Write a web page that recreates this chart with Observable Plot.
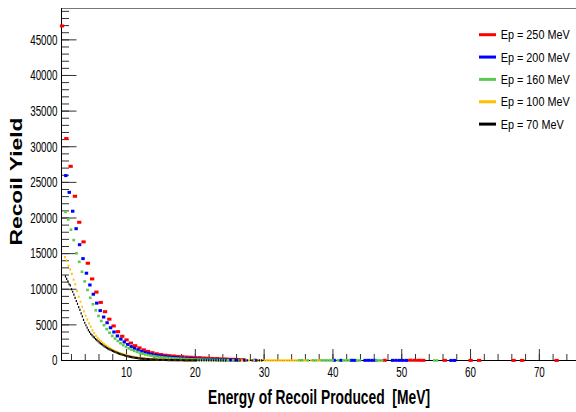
<!DOCTYPE html>
<html><head><meta charset="utf-8">
<script src="https://cdn.jsdelivr.net/npm/d3@7"></script>
<script src="https://cdn.jsdelivr.net/npm/@observablehq/plot@0.6"></script>
<style>
body{margin:0;background:#fff;}
#chart{position:relative;width:576px;height:412px;}
svg{font-family:"Liberation Sans",Arial,Helvetica,sans-serif;}
</style></head><body><div id="chart"></div>
<script>
// ---- series definitions ----
const seriesLabels = ["Ep = 250 MeV","Ep = 200 MeV","Ep = 160 MeV","Ep = 100 MeV","Ep = 70 MeV"];
const seriesColors = ["#ff0000","#0000ff","#5ccc50","#ffc000","#000000"];
const seriesStroke = [3, 3, 2.6, 2.2, 2.2];
const firstBinCenter = [0.7, 1.25, 1.2, 1.125, 1.2];
const binWidths = [0.625, 0.5, 0.4, 0.25, 0.175];

// ---- bin contents (main region) ----
const red = [46950,31150,27250,23050,19400,16650,13650,11450,9600,8150,6850,5800,4850,4050,3400,2900,2450,2080,1770,1500,1280,1100,950,840,750,680,630,560,540,480,460,410,400,350,330,290,280,230,220,180,170,130,120];
const blue = [25950,23600,20950,18500,16250,14300,12250,10600,9300,8050,7000,6100,5300,4600,4000,3450,3000,2600,2250,1950,1700,1480,1290,1130,990,870,770,680,610,550,490,440,400,360,330,300,270,250,225,200,180,165,150,135,120,110,95,85,75,65];
const green = [20850,19800,18350,16900,15050,13850,12450,11100,9900,8800,7900,7050,6250,5550,4950,4400,3900,3450,3080,2740,2430,2160,1920,1710,1520,1350,1200,1070,950,850,760,680,610,550,500,450,410,370,340,310,280,260,240,220,200,180,165,150,140,125,115,105,95,85,80,70,60,55];
const yellow = [14500,14000,13300,12800,12150,11350,10700,9750,8950,8250,7550,6900,6300,5750,5200,4750,4250,3850,3450,3150,2900,2680,2460,2270,2080,1900,1750,1600,1470,1340,1230,1120,1030,940,860,790,720,660,600,550,500,460,420,380,350,320,290,265,240,220,200,185,170,155,140,130,120,110,100,90,85,75,70,60,55,50,45,40,38,35,32,30,28,25,22,20,18];
const black = [11800,11450,11100,10700,10550,10000,9650,9250,8800,8350,7950,7500,7100,6600,6200,5700,5300,4950,4600,4250,4000,3750,3550,3350,3200,3000,2850,2700,2550,2400,2300,2150,2020,1900,1800,1700,1600,1520,1440,1360,1280,1200,1140,1060,1000,940,880,820,770,720,670,630,580,540,510,470,440,410,380,360,330,310,290,270,250,235,220,205,190,180,165,155,145,135,130,120,115,105,100,95,90,85,80,75,70,66,62,58,55,52,50,47,45,42,40,38,36,34,32,30,28,27,26,25,24,22,21,20,19];

// ---- sparse tail bins (energy, content) ----
const redTailE = [47.575,51.325,51.95,52.575,53.2,56.325,60.075,61.325,66.325,67.575,72.575];
const redTailV = [30,40,35,30,25,20,20,15,15,15,10];
const blueTailE = [26.25,27.25,28.75,40.25,41.25,42.75,43.25,44.75,45.25,45.75,46.25,48.75,49.25,49.75,50.25,50.75,57.25,57.75];
const blueTailV = [60,50,40,30,25,25,20,20,25,20,20,20,25,20,15,15,10,10];
const greenTailE = [24.4,24.8,25.6,26.4,35.2,35.6,36.4,37.2,37.6,38.4,38.8,39.2,39.6,40.0,40.8,41.6,42.0,42.4,43.6,44.0,46.4,46.8,47.2,54.8,55.2];
const greenTailV = [50,45,40,35,25,25,20,20,15,20,15,20,15,15,15,15,10,10,10,10,10,10,10,10,10];
const yellowTailE = [26.625,26.875,27.375,27.875,28.375,28.625,29.125,29.625,30.125,30.375,30.625,30.875,31.125,31.375,31.625,31.875,32.125,32.375,32.625,32.875,33.125,33.375,33.625,33.875,34.125,34.375,34.625,34.875,35.875,36.125,36.875,37.875,38.125];
const yellowTailV = [20,20,18,18,16,16,15,15,15,15,14,14,14,13,13,13,12,12,12,12,11,11,11,10,10,10,10,10,8,8,8,6,6];
const blackTailE = [20.275,20.625,20.975,21.325,21.675,22.025,22.375,22.725,23.075,23.425,23.775,24.125,24.475,25.175,25.875,26.225,26.575,27.275,27.625,28.325,29.025,29.375,29.725];
const blackTailV = [18,17,16,15,14,14,13,12,12,11,11,10,10,9,9,8,8,7,7,6,6,5,5];

// ---- axes ----
const xDomain = [0.55, 75.4];
const yDomain = [0, 49400];
const xTicks = [10,20,30,40,50,60,70];
const xMinorTicks = d3.range(2, 76, 2);
const yTicks = [0,5000,10000,15000,20000,25000,30000,35000,40000,45000];
const yMinorTicks = d3.range(0, 49001, 1000);
const xTitle = "Energy of Recoil Produced  [MeV]";
const yTitle = "Recoil Yield";

// ---- build rows ----
const mainValues = [red, blue, green, yellow, black];
const tails = [[redTailE, redTailV],[blueTailE, blueTailV],[greenTailE, greenTailV],[yellowTailE, yellowTailV],[blackTailE, blackTailV]];
const rowsBySeries = mainValues.map((vals, s) => {
  const w = binWidths[s];
  const rows = vals.map((v, i) => {
    const c = firstBinCenter[s] + i * w;
    return {series: seriesLabels[s], lo: c - w/2, hi: c + w/2, v};
  });
  const [tE, tV] = tails[s];
  tE.forEach((e, i) => rows.push({series: seriesLabels[s], lo: e - w/2, hi: e + w/2, v: tV[i]}));
  return rows.filter(r => r.v > 0 && r.lo >= xDomain[0] - w);
});

const tickColor = "#333";
const plot = Plot.plot({
  width: 576, height: 412,
  marginLeft: 61, marginRight: 0, marginTop: 8, marginBottom: 52,
  x: {domain: xDomain, label: null},
  y: {domain: yDomain, label: null},
  style: {fontFamily: '"Liberation Sans", Arial, Helvetica, sans-serif', fontSize: "15px", color: "#000", background: "#fff", overflow: "visible"},
  marks: [
    Plot.ruleY([yDomain[1]], {stroke: "#777", strokeWidth: 1}),
    Plot.axisY(yMinorTicks, {tickSize: -8, tickFormat: () => "", stroke: tickColor, label: null}),
    Plot.axisY(yTicks, {tickSize: -15.5, tickFormat: () => "", stroke: tickColor, label: null}),
    Plot.axisY(yTicks, {tickSize: 0, tickPadding: 4, tickFormat: d => String(d), fontSize: 15, label: null}),
    Plot.axisX(xMinorTicks, {tickSize: -6, tickFormat: () => "", stroke: tickColor, label: null}),
    Plot.axisX(xTicks, {tickSize: -11, tickFormat: () => "", stroke: tickColor, label: null}),
    Plot.axisX(xTicks, {tickSize: 0, tickPadding: 6, tickFormat: d => String(d), fontSize: 15, label: null}),
    Plot.ruleX([xDomain[0]], {stroke: "#000", strokeWidth: 1}),
    Plot.ruleY([0], {stroke: "#000", strokeWidth: 1}),
    ...rowsBySeries.map((rows, s) => Plot.ruleY(rows, {x1: "lo", x2: "hi", y: "v", stroke: seriesColors[s], strokeWidth: seriesStroke[s], strokeLinecap: "butt"}))
  ]
});
document.getElementById("chart").appendChild(plot);

// condense tick labels (the reference font is horizontally squeezed)
plot.querySelectorAll('g[aria-label$="tick label"] text').forEach(t => {
  const L = t.getComputedTextLength();
  if (L > 0) { t.setAttribute("textLength", (L * 0.655).toFixed(2)); t.setAttribute("lengthAdjust", "spacingAndGlyphs"); }
});

const svg = d3.select(plot);
// axis titles
svg.append("text")
  .attr("x", 319).attr("y", 403.5)
  .attr("text-anchor", "middle")
  .attr("font-weight", "bold").attr("font-size", 21)
  .attr("textLength", 222).attr("lengthAdjust", "spacingAndGlyphs")
  .attr("fill", "#000")
  .text(xTitle);
svg.append("text")
  .attr("transform", "translate(22,181.5) rotate(-90)")
  .attr("text-anchor", "middle")
  .attr("font-weight", "bold").attr("font-size", 17)
  .attr("textLength", 128).attr("lengthAdjust", "spacingAndGlyphs")
  .attr("fill", "#000")
  .text(yTitle);

// legend (text squeezed horizontally with a transform)
const lg = svg.append("g").attr("aria-label", "legend").attr("text-anchor", "start");
seriesLabels.forEach((lab, i) => {
  const yy = 34.7 + i * 22.35;
  lg.append("line").attr("x1", 479).attr("x2", 496).attr("y1", yy).attr("y2", yy)
    .attr("stroke", seriesColors[i]).attr("stroke-width", 3);
  lg.append("text")
    .attr("transform", `translate(500.7,${yy}) scale(0.835,1)`)
    .attr("dy", "0.36em")
    .attr("text-anchor", "start")
    .attr("font-size", 13).attr("fill", "#000").text(lab);
});
</script>
</body></html>
